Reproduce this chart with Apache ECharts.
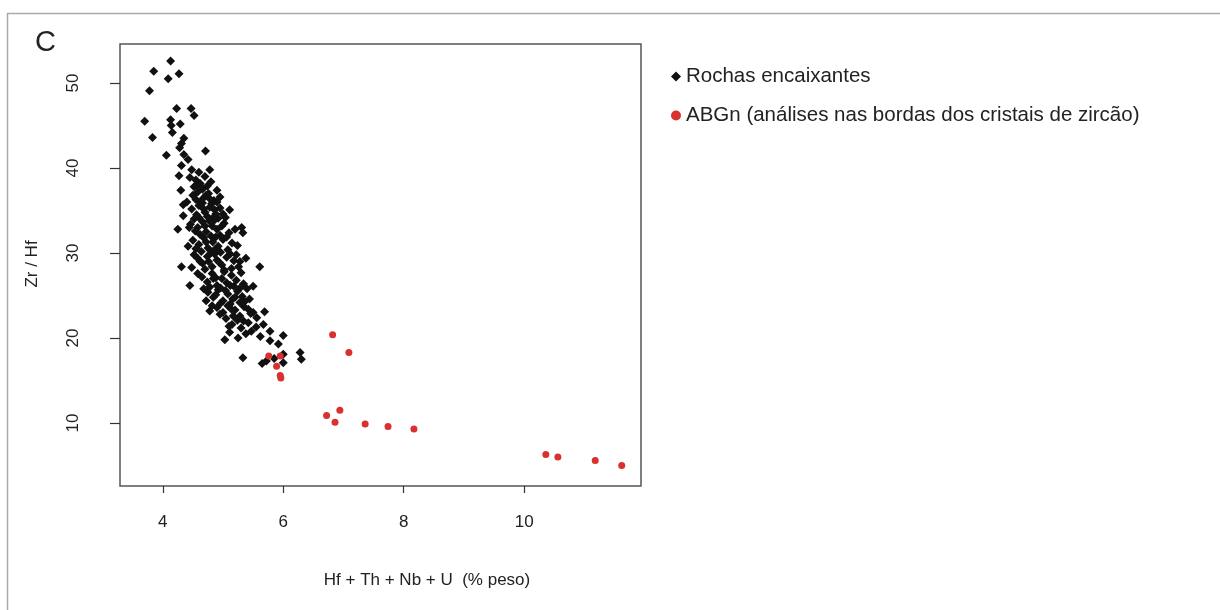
<!DOCTYPE html>
<html>
<head>
<meta charset="utf-8">
<script src="https://cdn.jsdelivr.net/npm/echarts@6/dist/echarts.min.js"></script>
<style>
html,body{margin:0;padding:0;background:#fff;}
#chart{width:1220px;height:610px;}
</style>
</head>
<body>
<div id="chart"></div>
<script>
// Series names
const seriesNames = ["Rochas encaixantes", "ABGn (análises nas bordas dos cristais de zircão)"];
// Tick values
const xTicks = [4, 6, 8, 10];
const yTicks = [10, 20, 30, 40, 50];
// Axis titles
const xTitle = "Hf + Th + Nb + U  (% peso)";
const yTitle = "Zr / Hf";
const panelLabel = "C";

// Rochas encaixantes: [Hf+Th+Nb+U, Zr/Hf]
const rochas = [
  [4.13,52.6],[3.85,51.4],[4.27,51.1],[4.09,50.5],[3.78,49.1],[4.23,47.0],[4.47,47.0],[4.52,46.2],
  [3.70,45.5],[4.13,45.7],[4.14,45.0],[4.29,45.2],[4.16,44.2],[3.83,43.6],[4.35,43.5],[4.31,42.9],
  [4.71,42.0],[4.06,41.5],[4.28,42.4],[4.35,41.6],[4.42,41.0],[4.31,40.3],[4.48,39.8],[4.78,39.8],
  [4.27,39.1],[4.60,39.5],[4.30,37.4],[4.95,36.6],[5.11,35.1],[4.34,35.7],[5.00,34.6],[4.34,34.4],
  [5.31,33.0],[4.25,32.8],[5.33,32.4],[4.31,28.4],[4.48,28.3],[5.61,28.4],[5.28,29.0],[4.45,26.2],
  [5.50,26.1],[4.78,23.2],[5.17,22.6],[5.42,23.4],[5.69,23.1],[5.42,21.8],[5.67,21.6],[5.47,20.8],
  [5.78,20.8],[5.11,20.7],[5.03,19.8],[6.00,20.3],[5.78,19.7],[5.92,19.3],[5.33,17.7],[5.72,17.3],
  [6.00,18.1],[6.00,17.1],[6.28,18.3],[6.30,17.5],[5.85,17.6],[5.65,17.0],
  [4.55,38.6],[4.62,38.2],[4.70,39.0],[4.52,37.8],[4.80,38.4],[4.66,37.5],[4.45,38.9],[4.74,37.9],
  [4.50,36.8],[4.58,37.2],[4.68,36.5],[4.76,37.0],[4.85,36.2],[4.62,36.0],[4.90,37.4],[4.55,36.3],
  [4.72,36.8],[4.81,35.8],
  [4.48,35.2],[4.60,35.6],[4.70,34.8],[4.78,35.4],[4.88,34.6],[4.95,35.3],[4.56,34.5],[4.66,35.9],
  [4.84,34.2],[4.52,34.0],[4.74,34.3],[4.92,34.1],
  [4.46,33.4],[4.58,33.0],[4.66,33.7],[4.72,32.5],[4.82,33.2],[4.90,32.8],[5.02,33.5],[4.62,32.2],
  [4.77,33.8],[5.10,32.4],[4.54,32.6],[4.95,32.1],[4.86,33.9],
  [4.50,31.5],[4.60,31.0],[4.68,31.8],[4.75,30.6],[4.83,31.3],[4.92,30.8],[5.00,31.6],[5.08,30.4],
  [4.64,30.2],[4.80,30.0],[5.15,31.2],[4.55,30.5],[4.96,30.1],[4.72,31.3],[4.88,31.9],
  [4.58,29.4],[4.66,28.8],[4.74,29.6],[4.82,28.4],[4.90,29.2],[4.98,28.6],[5.06,29.5],[5.14,28.2],
  [5.22,29.8],[4.70,28.1],[4.86,29.9],[5.02,28.0],[4.62,29.0],[5.18,29.1],[4.94,28.9],
  [4.65,27.2],[4.74,26.6],[4.82,27.6],[4.90,26.2],[4.98,27.0],[5.06,26.5],[5.14,27.4],[5.22,26.8],
  [5.30,27.7],[4.78,26.0],[5.02,27.8],[5.18,26.1],[5.34,26.4],[4.88,27.1],
  [4.75,25.4],[4.84,24.8],[4.92,25.7],[5.00,24.4],[5.08,25.2],[5.16,24.6],[5.24,25.5],[5.32,24.9],
  [5.40,25.8],[4.96,24.1],[5.12,24.0],[5.36,24.3],[4.88,25.1],
  [4.90,23.6],[5.00,23.0],[5.08,23.8],[5.20,23.3],[5.28,22.6],[5.35,23.7],[5.50,23.0],[5.05,22.3],
  [5.24,22.1],[5.56,22.4],
  [5.15,21.6],[5.30,21.2],[5.38,20.5],[5.55,21.3],[5.62,20.2],[5.25,20.0],
  [4.40,36.0],[4.44,33.0],[4.42,30.8],[4.52,29.8],[4.58,27.6],[4.68,25.8],[4.72,24.4],[4.82,23.8],
  [4.95,22.8],[5.10,21.4],[4.64,37.8],[4.78,36.4],[4.86,35.1],[4.98,33.2],[5.06,31.9],[5.12,29.9],
  [5.26,28.4],[5.30,26.0],[5.44,24.6],[5.46,22.9],[4.60,34.2],[4.70,33.2],[4.80,32.0],[4.86,30.4],
  [4.76,29.0],[4.84,27.0],[4.96,25.9],[5.04,25.6],[5.14,23.4],[5.20,24.8],[4.56,38.0],[4.68,35.2],
  [4.90,36.0],[5.04,34.2],[5.20,32.8],[5.24,30.9],[5.38,29.4],[5.12,26.2],[5.28,24.2],[5.34,22.0]
];

// ABGn (bordas dos cristais de zircão)
const abgn = [
  [5.76,17.9],[5.95,17.9],[5.89,16.7],[5.95,15.6],[5.96,15.3],
  [6.82,20.4],[7.09,18.3],
  [6.72,10.9],[6.94,11.5],[6.86,10.1],
  [7.36,9.9],[7.74,9.6],[8.17,9.3],
  [10.36,6.3],[10.56,6.0],[11.18,5.6],[11.62,5.0]
];

const chart = echarts.init(document.getElementById('chart'), null, {renderer: 'canvas'});
const font = 'Liberation Sans, Arial, sans-serif';
const axisCol = '#333';

chart.setOption({
  animation: false,
  backgroundColor: '#fff',
  grid: {
    left: 120, top: 44, right: 579, bottom: 124,
    show: true, borderColor: '#555', borderWidth: 1.5, backgroundColor: 'transparent'
  },
  legend: {
    orient: 'vertical',
    left: 666, top: 61,
    itemGap: 18,
    itemWidth: 10, itemHeight: 10,
    textStyle: {fontFamily: font, fontSize: 20.5, color: '#222'},
    data: [
      {name: seriesNames[0], icon: 'diamond'},
      {name: seriesNames[1], icon: 'circle'}
    ]
  },
  xAxis: {
    type: 'value',
    min: 3.29, max: 11.94,
    splitLine: {show: false},
    axisLine: {show: false},
    axisTick: {show: true, inside: false, length: 7, lineStyle: {color: axisCol, width: 1.2}, customValues: xTicks},
    axisLabel: {customValues: xTicks, margin: 28, fontFamily: font, fontSize: 17, color: '#222'}
  },
  yAxis: {
    type: 'value',
    min: 2.6, max: 54.6,
    splitLine: {show: false},
    axisLine: {show: false},
    axisTick: {show: true, inside: false, length: 10, lineStyle: {color: axisCol, width: 1.2}, customValues: yTicks},
    axisLabel: {customValues: yTicks, rotate: 90, margin: 38, fontFamily: font, fontSize: 17, color: '#222'}
  },
  series: [
    {
      name: seriesNames[0], type: 'scatter', symbol: 'diamond', symbolSize: 9,
      itemStyle: {color: '#111', opacity: 1}, data: rochas, z: 2
    },
    {
      name: seriesNames[1], type: 'scatter', symbol: 'circle', symbolSize: 7,
      itemStyle: {color: '#d8312f', opacity: 1}, data: abgn, z: 3
    }
  ],
  graphic: [
    {type: 'rect', left: 5, top: 11, shape: {width: 1230, height: 620},
     style: {fill: 'none', stroke: '#aaa', lineWidth: 1.5}, silent: true, z: -1},
    {type: 'text', left: 35, top: 28,
     style: {text: panelLabel, fontFamily: font, fontSize: 29, fill: '#222'}},
    {type: 'text', x: 427, y: 580,
     style: {text: xTitle, fontFamily: font, fontSize: 17, fill: '#222', align: 'center', verticalAlign: 'middle'}},
    {type: 'text', x: 32, y: 264, rotation: Math.PI / 2,
     style: {text: yTitle, fontFamily: font, fontSize: 17, fill: '#222', align: 'center', verticalAlign: 'middle'}}
  ]
});
</script>
</body>
</html>
